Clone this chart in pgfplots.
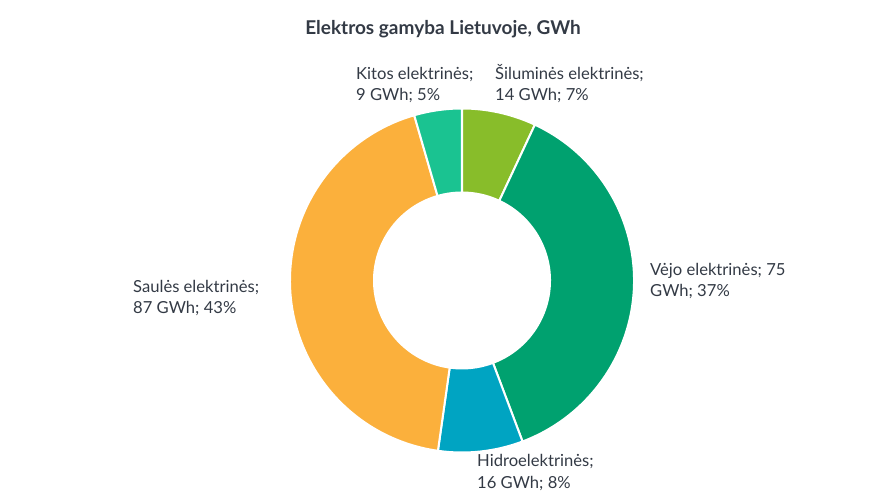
\documentclass[border=0pt]{standalone}
\usepackage{pgfplots}
\usepackage{pgfplotstable}
\pgfplotsset{compat=1.18}
\usepackage{fontspec}
\setmainfont{Lato}
\definecolor{cSil}{HTML}{88BD2A}
\definecolor{cVej}{HTML}{00A16F}
\definecolor{cHid}{HTML}{00A4C2}
\definecolor{cSau}{HTML}{FBB03C}
\definecolor{cKit}{HTML}{1AC391}
\definecolor{txt}{HTML}{333A45}

% Electricity production, GWh (clockwise from 12 o'clock)
\pgfplotstableread{
name value
Siluminės 14
Vejo 75
Hidro 16
Saules 87
Kitos 9
}\datatable

\newcommand\getv[2]{\pgfplotstablegetelem{#1}{value}\of\datatable\edef#2{\pgfplotsretval}}
\newcommand\seg[3]{%
  \fill[#1,draw=white,line width=2pt]
    ([shift={(#2:172pt)}]axis cs:462,222.5)
    arc[start angle=#2,end angle=#3,radius=172pt]
    -- ([shift={(#3:88pt)}]axis cs:462,222.5)
    arc[start angle=#3,end angle=#2,radius=88pt] -- cycle;}

\begin{document}%
\begin{tikzpicture}
\getv{0}\vA \getv{1}\vB \getv{2}\vC \getv{3}\vD \getv{4}\vE
\pgfmathsetmacro\tot{\vA+\vB+\vC+\vD+\vE}
\pgfmathsetmacro\aA{90}
\pgfmathsetmacro\aB{\aA-\vA/\tot*360}
\pgfmathsetmacro\aC{\aB-\vB/\tot*360}
\pgfmathsetmacro\aD{\aC-\vC/\tot*360}
\pgfmathsetmacro\aE{\aD-\vD/\tot*360}
\pgfmathsetmacro\aF{\aE-\vE/\tot*360}
\begin{axis}[width=886pt,height=503pt,scale only axis,hide axis,
  xmin=0,xmax=886,ymin=0,ymax=503,clip=false]
\path (axis cs:0,0) coordinate (ll) rectangle (axis cs:886,503) coordinate (ur);
\seg{cSil}{\aA}{\aB}
\seg{cVej}{\aB}{\aC}
\seg{cHid}{\aC}{\aD}
\seg{cSau}{\aD}{\aE}
\seg{cKit}{\aE}{\aF}
\tikzset{lab/.style={anchor=base west,inner sep=0pt,text=txt,font=\fontsize{16.6}{20}\selectfont}}
\node[anchor=base,inner sep=0pt,text=txt,font=\fontsize{19}{22}\selectfont\bfseries] at (axis cs:443,468) {Elektros gamyba Lietuvoje, GWh};
\node[lab] at (axis cs:356,423) {Kitos elektrinės;};
\node[lab] at (axis cs:356,402) {9 GWh; 5\%};
\node[lab] at (axis cs:495,423) {Šiluminės elektrinės;};
\node[lab] at (axis cs:495,402) {14 GWh; 7\%};
\node[lab] at (axis cs:650,227) {Vėjo elektrinės; 75};
\node[lab] at (axis cs:650,206) {GWh; 37\%};
\node[lab] at (axis cs:477,36) {Hidroelektrinės;};
\node[lab] at (axis cs:477,14) {16 GWh; 8\%};
\node[lab] at (axis cs:133,210) {Saulės elektrinės;};
\node[lab] at (axis cs:133,189) {87 GWh; 43\%};
\end{axis}
\pgfresetboundingbox
\useasboundingbox (ll) rectangle (ur);
\end{tikzpicture}%
\end{document}
